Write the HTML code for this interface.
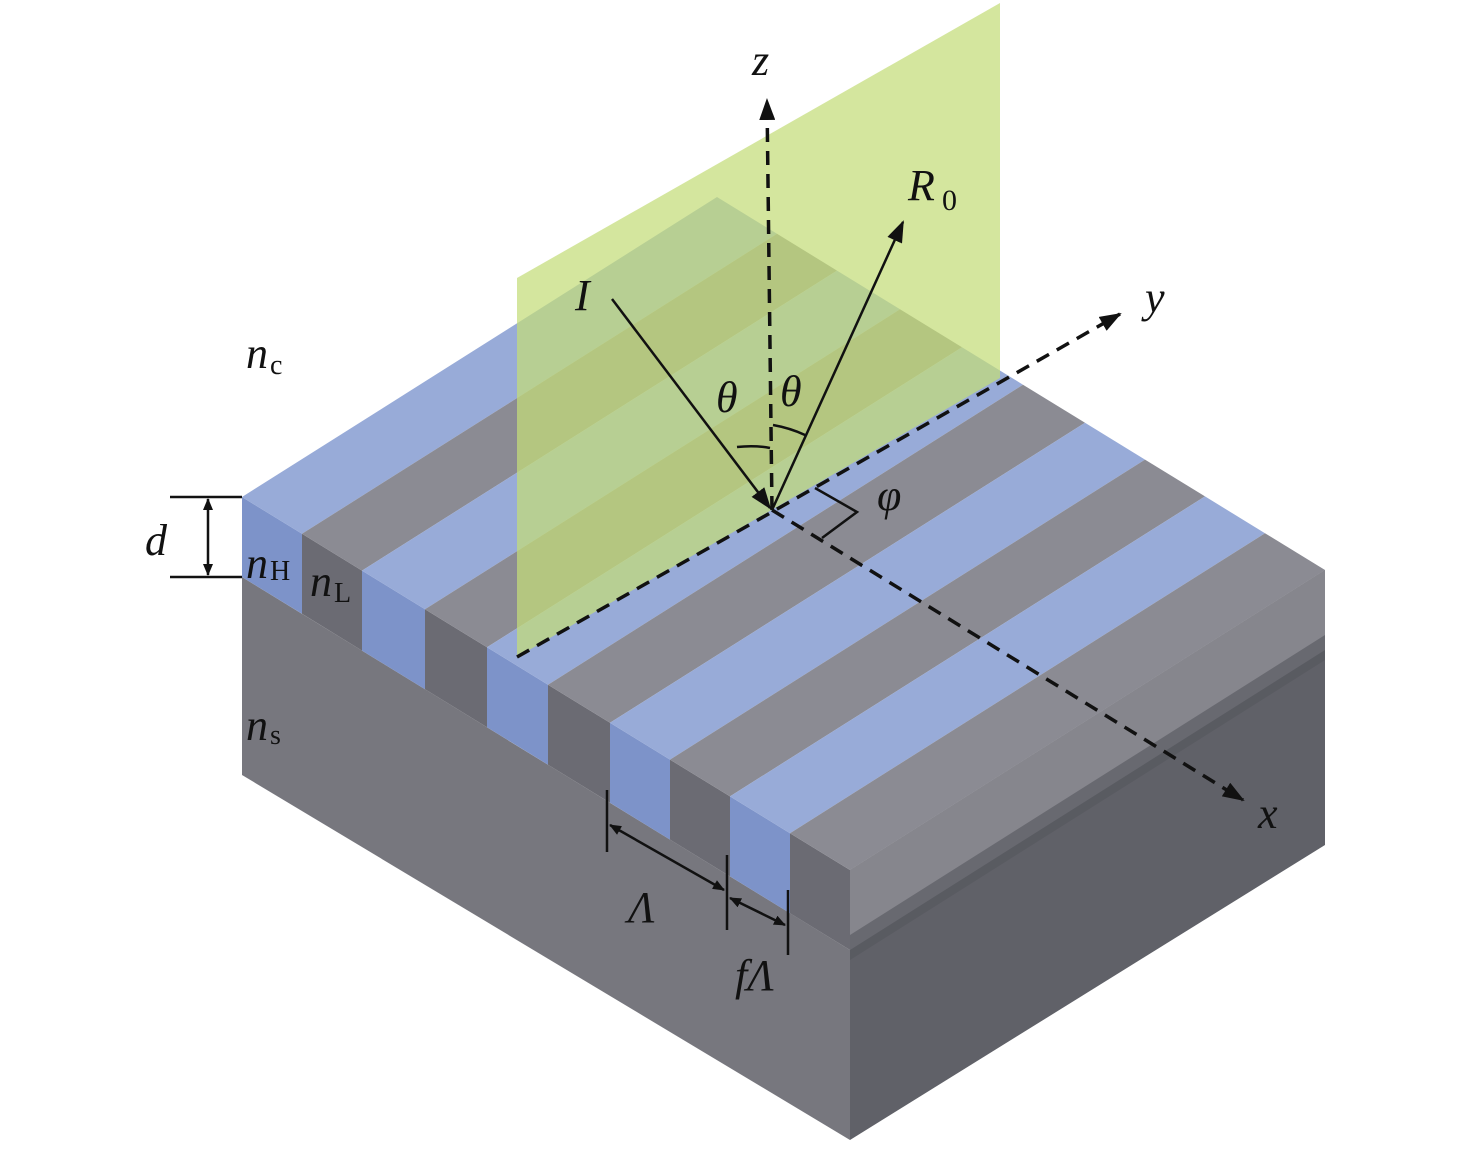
<!DOCTYPE html>
<html><head><meta charset="utf-8"><style>html,body{margin:0;padding:0;background:#fff}text{font-family:"Liberation Serif",serif}</style></head>
<body>
<svg width="1476" height="1144" viewBox="0 0 1476 1144" xmlns="http://www.w3.org/2000/svg">
<defs>
<marker id="ah" markerWidth="10" markerHeight="10" refX="9" refY="5" orient="auto" markerUnits="userSpaceOnUse"><path d="M0,0 L10,5 L0,10 Z" fill="#111"/></marker>
<marker id="ahb" markerWidth="22" markerHeight="16" refX="20" refY="8" orient="auto" markerUnits="userSpaceOnUse"><path d="M0,0 L22,8 L0,16 Z" fill="#111"/></marker>
<marker id="as" markerWidth="12" markerHeight="10" refX="11" refY="5" orient="auto-start-reverse" markerUnits="userSpaceOnUse"><path d="M0,0 L12,5 L0,10 Z" fill="#111"/></marker>
</defs>
<polygon points="242,577 850,950 850,1140 242,775" fill="#77777e"/>
<polygon points="850,870 1325,570 1325,845 850,1140" fill="#606168"/>
<polygon points="850,870 1325,570 1325,650 850,950" fill="#86868d"/>
<polygon points="850,935 1325,635 1325,660 850,960" fill="#55565d" opacity="0.6"/>
<g>
<polygon points="242,497 302,533.8 302,613.8 242,577" fill="#7d93c9"/>
<polygon points="302,533.8 362,570.6 362,650.6 302,613.8" fill="#6b6b73"/>
<polygon points="362,570.6 425,609.3 425,689.3 362,650.6" fill="#7d93c9"/>
<polygon points="425,609.3 487,647.3 487,727.3 425,689.3" fill="#6b6b73"/>
<polygon points="487,647.3 548,684.7 548,764.7 487,727.3" fill="#7d93c9"/>
<polygon points="548,684.7 610,722.8 610,802.8 548,764.7" fill="#6b6b73"/>
<polygon points="610,722.8 670,759.6 670,839.6 610,802.8" fill="#7d93c9"/>
<polygon points="670,759.6 730,796.4 730,876.4 670,839.6" fill="#6b6b73"/>
<polygon points="730,796.4 790,833.2 790,913.2 730,876.4" fill="#7d93c9"/>
<polygon points="790,833.2 850,870 850,950 790,913.2" fill="#6b6b73"/>
</g>
<g>
<polygon points="242,497 302,533.8 777,233.8 717,197" fill="#98abd8"/>
<polygon points="302,533.8 362,570.6 837,270.6 777,233.8" fill="#8b8b93"/>
<polygon points="362,570.6 425,609.3 900,309.3 837,270.6" fill="#98abd8"/>
<polygon points="425,609.3 487,647.3 962,347.3 900,309.3" fill="#8b8b93"/>
<polygon points="487,647.3 548,684.7 1023,384.7 962,347.3" fill="#98abd8"/>
<polygon points="548,684.7 610,722.8 1085,422.8 1023,384.7" fill="#8b8b93"/>
<polygon points="610,722.8 670,759.6 1145,459.6 1085,422.8" fill="#98abd8"/>
<polygon points="670,759.6 730,796.4 1205,496.4 1145,459.6" fill="#8b8b93"/>
<polygon points="730,796.4 790,833.2 1265,533.2 1205,496.4" fill="#98abd8"/>
<polygon points="790,833.2 850,870 1325,570 1265,533.2" fill="#8b8b93"/>
</g>
<polygon points="517,278 1000,3 1000,378 517,657" fill="#c4dd78" opacity="0.72"/>
<g stroke="#111" stroke-width="3.5" stroke-dasharray="14,9" fill="none">
<line x1="517" y1="657" x2="1120" y2="314" marker-end="url(#ahb)"/>
<line x1="772" y1="510" x2="767" y2="100" marker-end="url(#ahb)"/>
<line x1="772" y1="510" x2="1243" y2="800" marker-end="url(#ahb)"/>
</g>
<g stroke="#111" stroke-width="2.5" fill="none">
<line x1="612" y1="299" x2="770" y2="508" marker-end="url(#ahb)"/>
<line x1="772" y1="510" x2="903" y2="222" marker-end="url(#ahb)"/>
<path d="M737,447 Q755,445 770,448"/>
<path d="M773,425 Q790,428 805,435"/>
<polyline points="815,488 857,512 822,538"/>
<line x1="170" y1="497" x2="242" y2="497"/>
<line x1="170" y1="577" x2="242" y2="577"/>
<line x1="208" y1="499" x2="208" y2="575" marker-start="url(#as)" marker-end="url(#as)"/>
<line x1="607" y1="790" x2="607" y2="852"/>
<line x1="727" y1="855" x2="727" y2="930"/>
<line x1="788" y1="890" x2="788" y2="955"/>
<line x1="610" y1="825" x2="724" y2="890" marker-start="url(#as)" marker-end="url(#as)"/>
<line x1="730" y1="898" x2="785" y2="925" marker-start="url(#as)" marker-end="url(#as)"/>
</g>
<g font-style="italic" font-size="44" fill="#111">
<text x="752" y="75">z</text>
<text x="1145" y="312">y</text>
<text x="1258" y="828">x</text>
<text x="575" y="310">I</text>
<text x="908" y="200">R</text><text x="942" y="210" font-style="normal" font-size="30">0</text>
<text x="716" y="412">θ</text>
<text x="780" y="406">θ</text>
<text x="877" y="510">φ</text>
<text x="145" y="555">d</text>
<text x="246" y="368">n</text><text x="270" y="374" font-style="normal" font-size="28">c</text>
<text x="246" y="578">n</text><text x="270" y="580" font-style="normal" font-size="28">H</text>
<text x="310" y="596">n</text><text x="334" y="602" font-style="normal" font-size="28">L</text>
<text x="246" y="740">n</text><text x="270" y="744" font-style="normal" font-size="28">s</text>
<text x="628" y="922">Λ</text>
<text x="735" y="990">fΛ</text>
</g>
</svg>
</body></html>
